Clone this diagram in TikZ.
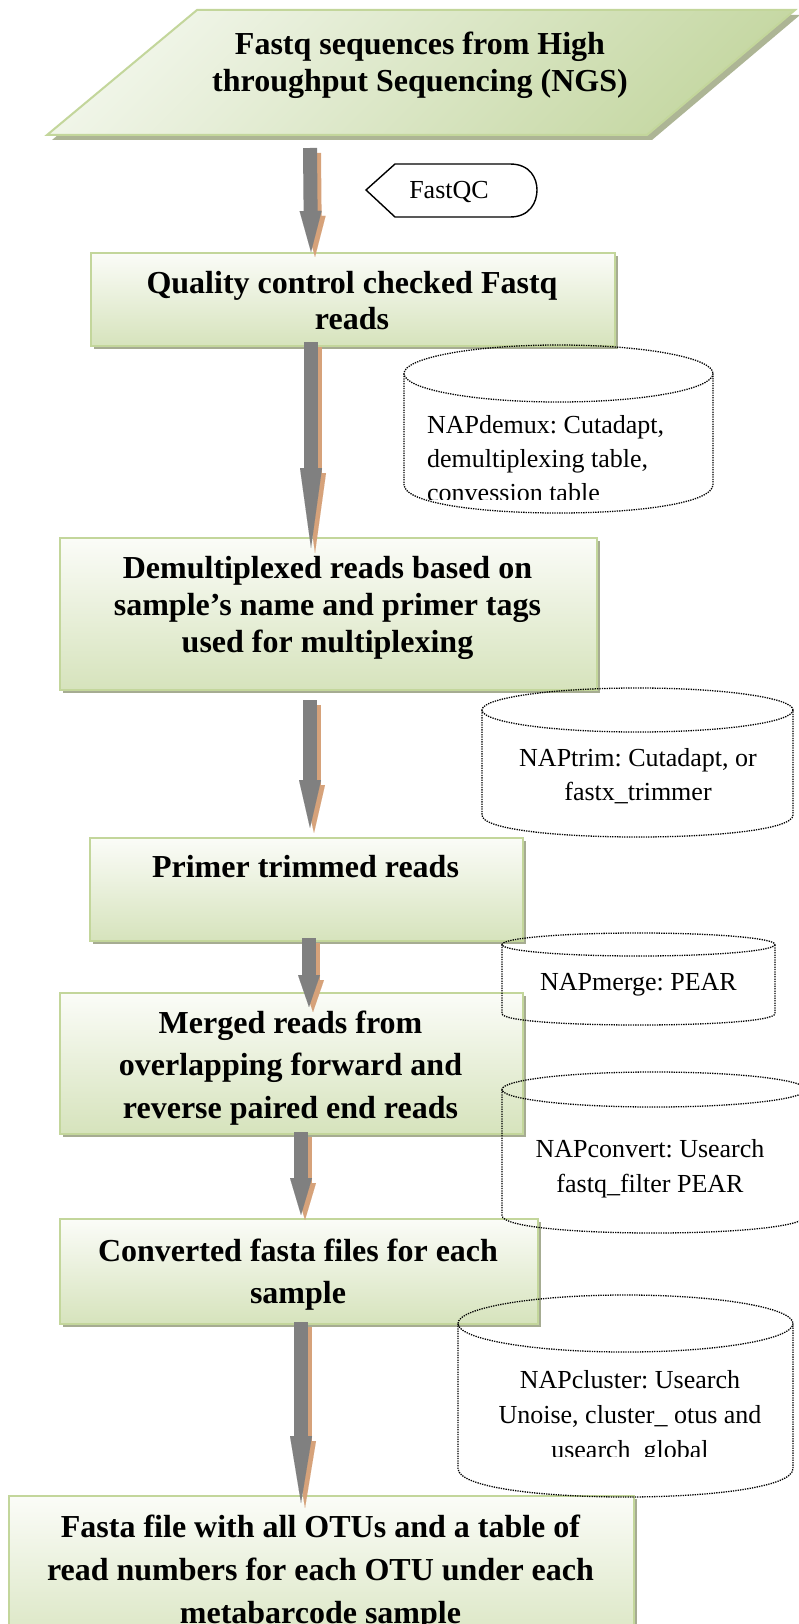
\documentclass[tikz,border=0pt]{standalone}
\usepackage{fontspec}
\setmainfont{Liberation Serif}
\usetikzlibrary{arrows.meta,calc}
\definecolor{agray}{HTML}{808080}
\definecolor{atan}{HTML}{D6A27A}
\definecolor{bborder}{HTML}{C3D69B}
\definecolor{btop}{HTML}{FBFCF8}
\definecolor{bbot}{HTML}{D6E3BC}
\definecolor{bshadow}{HTML}{A6AC92}
\definecolor{pshadow}{HTML}{ADB595}
\definecolor{plight}{HTML}{F0F5E8}
\definecolor{pdark}{HTML}{C6D8A4}
\newcommand\gbox[5]{%
  \fill[bshadow] (#2+4,#3+4) rectangle (#4+4,#5+4);
  \node[greenbox, minimum width={(#4-#2)*1pt}, minimum height={(#5-#3)*1pt}] (#1) at (#2,#3) {};}
\newcommand\cyl[5]{%
  \draw[cylline] (#1,#3+#4) -- (#1,#5-#4) .. controls (#1,#5-#4+1.3333*#4) and (#2,#5-#4+1.3333*#4) .. (#2,#5-#4) -- (#2,#3+#4);
  \draw[cylline] ({(#1+#2)/2},#3+#4) ellipse [x radius={(#2-#1)/2}, y radius=#4];}
\newcommand\blkarrow[5]{%
  \draw[tanarrow=#5] ($(#1)+#2+(4,5)$) -- ($(#3)+#4+(4,5)$);
  \draw[grayarrow=#5] ($(#1)+#2$) -- ($(#3)+#4$);}
\begin{document}
\frenchspacing
\begin{tikzpicture}[x=1pt,y=-1pt,
  btext/.style={font=\bfseries, anchor=base, inner sep=0pt},
  ctext/.style={anchor=base, inner sep=0pt},
  greenbox/.style={draw=bborder, line width=2pt, top color=btop, bottom color=bbot, inner sep=0pt, anchor=north west},
  cylline/.style={draw=black, line width=1.3pt, dash pattern=on 1.3pt off 1.1pt},
  grayarrow/.style={draw=agray, line width=14pt, -{Triangle[width=22pt,length=#1pt,line width=0.01pt]}},
  tanarrow/.style={draw=atan, line width=14pt, -{Triangle[width=22pt,length=#1pt,line width=0.01pt]}}]
\useasboundingbox (0,0) rectangle (798,1624);

% parallelogram
\fill[pshadow] (202,15) -- (800,15) -- (652,140) -- (52,140) -- cycle;
\shade[top color=plight, bottom color=pdark, shading angle=45] (197,10) -- (795,10) -- (647,135) -- (47,135) -- cycle;
\draw[bborder, line width=2pt] (197,10) -- (795,10) -- (647,135) -- (47,135) -- cycle;
\coordinate (pB) at (347,135);
\node[btext] (t1) at (420,55) {\fontsize{32}{37}\selectfont\begin{tabular}[t]{@{}c@{}}Fastq sequences from High\\throughput Sequencing (NGS)\end{tabular}};

% FastQC
\draw[line width=1.4pt] (366,190) -- (395,164) -- (510,164) .. controls (530,164) and (537,178) .. (537,190) .. controls (537,202) and (530,217) .. (510,217) -- (395,217) -- cycle;
\node[ctext] (fq) at (449,199) {\fontsize{26}{30}\selectfont FastQC};

% boxes
\gbox{b2}{90}{252}{614}{345}
\gbox{b3}{59}{537}{596}{689}
\gbox{b4}{89}{837}{522}{940}
\gbox{b5}{59}{992}{522}{1133}
\gbox{b6}{59}{1218}{537}{1323}
\gbox{b7}{8}{1495}{633}{1660}

\node[btext] (t2) at (352,293) {\fontsize{32}{36}\selectfont\begin{tabular}[t]{@{}c@{}}Quality control checked Fastq\\reads\end{tabular}};
\node[btext] (t3) at (327.5,578) {\fontsize{32}{37}\selectfont\begin{tabular}[t]{@{}c@{}}Demultiplexed reads based on\\sample’s name and primer tags\\used for multiplexing\end{tabular}};
\node[btext] (t4) at (305.5,877) {\fontsize{32}{37}\selectfont Primer trimmed reads};
\node[btext] (t5) at (290.5,1033) {\fontsize{32}{42.5}\selectfont\begin{tabular}[t]{@{}c@{}}Merged reads from\\overlapping forward and\\reverse paired end reads\end{tabular}};
\node[btext] (t6) at (298,1261) {\fontsize{32}{42}\selectfont\begin{tabular}[t]{@{}c@{}}Converted fasta files for each\\sample\end{tabular}};
\node[btext] (t7) at (320.5,1537) {\fontsize{32}{43}\selectfont\begin{tabular}[t]{@{}c@{}}Fasta file with all OTUs and a table of\\read numbers for each OTU under each\\metabarcode sample\end{tabular}};

% arrows
\blkarrow{pB}{(-37,13)}{b2.north}{(-42,0)}{41}
\blkarrow{b2.south}{(-42,-5)}{b3.north}{(-17.5,11)}{80}
\blkarrow{b3.south}{(-18.5,9)}{b4.north}{(3.5,-9)}{48}
\blkarrow{b4.south}{(2.5,-4)}{b5.north}{(17.5,15)}{32}
\blkarrow{b5.south}{(9.5,-3)}{b6.north}{(2,-3)}{37}
\blkarrow{b6.south}{(2,-3)}{b7.north}{(-20.5,8)}{67}

% cylinders
\cyl{404}{713}{345}{28.5}{513}
\cyl{482}{793}{688}{22}{837}
\cyl{502}{775}{933}{11.5}{1025}
\cyl{502}{806}{1072}{17.5}{1233}
\cyl{458}{793}{1295}{28.5}{1497}

\begin{scope}
\clip (404,345) rectangle (713,499);
\node[ctext, anchor=base west] (c1) at (427,433) {\fontsize{26}{34}\selectfont\begin{tabular}[t]{@{}l@{}}NAPdemux: Cutadapt,\\demultiplexing table,\\convession table\end{tabular}};
\end{scope}
\node[ctext] (c2) at (638,766) {\fontsize{26}{34}\selectfont\begin{tabular}[t]{@{}c@{}}NAPtrim: Cutadapt, or\\fastx\_trimmer\end{tabular}};
\node[ctext] (c3) at (638.5,990) {\fontsize{26}{33}\selectfont NAPmerge: PEAR};
\node[ctext] (c4) at (650,1157) {\fontsize{26}{35}\selectfont\begin{tabular}[t]{@{}c@{}}NAPconvert: Usearch\\fastq\_filter PEAR\end{tabular}};
\begin{scope}
\clip (458,1295) rectangle (793,1456);
\node[ctext] (c5) at (630,1388) {\fontsize{26}{35}\selectfont\begin{tabular}[t]{@{}c@{}}NAPcluster: Usearch\\Unoise, cluster\_ otus and\\usearch\_global\end{tabular}};
\end{scope}
\end{tikzpicture}
\end{document}
